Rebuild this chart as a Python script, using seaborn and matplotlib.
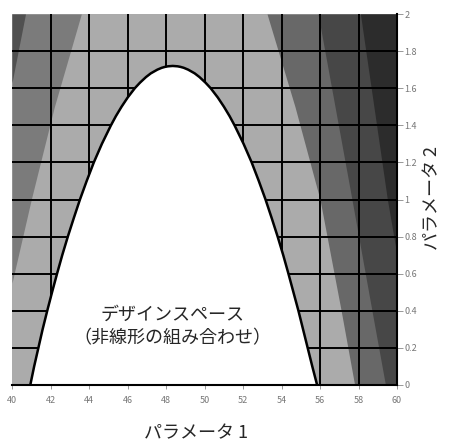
import numpy as np
import pandas as pd
import matplotlib
matplotlib.use("Agg")
import matplotlib.pyplot as plt
from matplotlib.ticker import FuncFormatter
import seaborn as sns

# values
# design space boundary (left / right branch) at a few y levels
design_y = [0.0, 0.1, 0.2, 0.3, 0.4, 0.5, 0.6, 0.7, 0.8, 0.9, 1.0, 1.1, 1.2, 1.3, 1.4,
            1.45, 1.5, 1.55, 1.6, 1.63, 1.66, 1.68, 1.7, 1.71, 1.715, 1.718, 1.72]
design_left = [40.95, 41.15, 41.37, 41.59, 41.83, 42.08, 42.34, 42.61, 42.9, 43.21, 43.53,
               43.88, 44.25, 44.67, 45.14, 45.4, 45.69, 46.01, 46.38, 46.65, 46.96, 47.21,
               47.55, 47.78, 47.95, 48.1, 48.35]
design_right = [55.85, 55.6, 55.36, 55.12, 54.88, 54.62, 54.36, 54.09, 53.8, 53.49, 53.17,
                52.82, 52.45, 52.03, 51.56, 51.3, 51.01, 50.69, 50.32, 50.05, 49.74, 49.49,
                49.15, 48.92, 48.75, 48.6, 48.35]

# left side bands
left_a_y = [0.55, 1.0, 1.5, 2.0]
left_a_x = [40.0, 41.0, 42.2, 43.6]
left_b_y = [1.63, 2.0]
left_b_x = [40.0, 40.7]

# right side bands
right_c_y = [0.0, 0.4, 1.0, 1.5, 2.0]
right_c_x = [57.8, 57.1, 56.0, 54.7, 53.25]
right_d_y = [0.0, 0.4, 1.0, 2.0]
right_d_x = [59.4, 58.7, 57.66, 55.9]
right_e_y = [0.7, 1.0, 2.0]
right_e_x = [60.0, 59.5, 58.1]

x_ticks = [40, 42, 44, 46, 48, 50, 52, 54, 56, 58, 60]
y_ticks = [0, 0.2, 0.4, 0.6, 0.8, 1.0, 1.2, 1.4, 1.6, 1.8, 2.0]

sns.set_theme(style="white")
plt.rcParams['font.family'] = ['Noto Sans CJK JP', 'DejaVu Sans']

fig = plt.figure(figsize=(4.49, 4.43), dpi=100)
ax = fig.add_axes([12 / 449, 1 - 385 / 443, 385 / 449, 371 / 443])

light = '#ababab'
mid_left = '#7b7b7b'
dark_left = '#505050'
mid_right = '#686868'
dark_right = '#474747'
darkest = '#2c2c2c'

# background = light band
ax.axvspan(40, 60, color=light, zorder=0, lw=0)

# left bands
ax.fill_betweenx(left_a_y, 40, left_a_x, color=mid_left, lw=0, zorder=1)
ax.fill_betweenx(left_b_y, 40, left_b_x, color=dark_left, lw=0, zorder=1.1)

# right bands
ax.fill_betweenx(right_c_y, right_c_x, 60, color=mid_right, lw=0, zorder=1)
ax.fill_betweenx(right_d_y, right_d_x, 60, color=dark_right, lw=0, zorder=1.1)
ax.fill_betweenx(right_e_y, right_e_x, 60, color=darkest, lw=0, zorder=1.2)

# grid (interior only)
ax.vlines(x_ticks[1:-1], 0, 2, color='black', lw=1.4, zorder=2)
ax.hlines(y_ticks[1:-1], 40, 60, color='black', lw=1.4, zorder=2)

# design space
ax.fill_betweenx(design_y, design_left, design_right, color='white', lw=0, zorder=3)
edge = pd.DataFrame({
    'x': design_left + design_right[::-1][1:],
    'y': design_y + design_y[::-1][1:],
})
sns.lineplot(data=edge, x='x', y='y', sort=False, estimator=None,
             color='black', lw=1.8, ax=ax, zorder=4, solid_joinstyle='round')

ax.text(48.36, 0.377, 'デザインスペース', ha='center', va='center', fontsize=13, zorder=5)
ax.text(48.36, 0.25, '（非線形の組み合わせ）', ha='center', va='center', fontsize=13, zorder=5)

ax.set_xlim(40, 60)
ax.set_ylim(0, 2)
ax.set_xticks(x_ticks)
ax.set_yticks(y_ticks)
ax.yaxis.tick_right()
ax.xaxis.set_major_formatter(FuncFormatter(lambda v, p: '%g' % v))
ax.yaxis.set_major_formatter(FuncFormatter(lambda v, p: '%g' % v))
ax.tick_params(axis='x', bottom=True, direction='out', length=3, width=0.6,
               color='#888888', labelcolor='#777777', labelsize=6.5, pad=5)
ax.tick_params(axis='y', right=True, left=False, direction='out', length=4, width=0.6,
               color='#888888', labelcolor='#777777', labelsize=6.5, pad=1.5)
ax.set_xlabel('')
ax.set_ylabel('')
for side in ['top', 'left']:
    ax.spines[side].set_visible(False)
for side in ['bottom', 'right']:
    ax.spines[side].set_color('black')
    ax.spines[side].set_linewidth(1.5)
    ax.spines[side].set_zorder(6)

fig.text(196 / 449, 1 - 433 / 443, 'パラメータ 1', ha='center', va='center', fontsize=13)
fig.text(432 / 449, 1 - 198 / 443, 'パラメータ 2', ha='center', va='center',
         rotation=90, fontsize=13)

fig.savefig('out.png', dpi=100)
